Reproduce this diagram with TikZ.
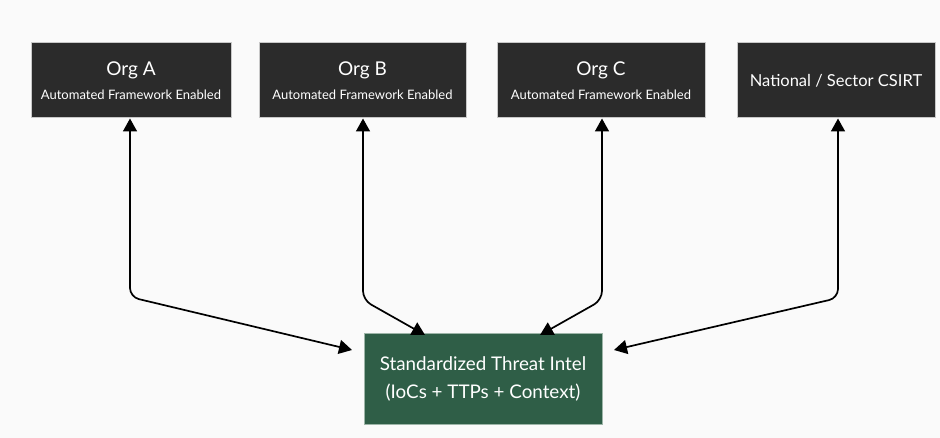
\documentclass[tikz,border=0pt]{standalone}
\usepackage{fontspec}
\setmainfont{Lato}
\usetikzlibrary{arrows.meta}
\definecolor{boxdark}{HTML}{2B2B2B}
\definecolor{boxedge}{HTML}{C8C8C8}
\definecolor{hubgreen}{HTML}{2F5E47}
\definecolor{hubedge}{HTML}{9DB5A8}
\definecolor{bgpaper}{HTML}{FAFAFA}
\newcommand{\orgtitle}[1]{{\fontsize{19}{22}\selectfont #1}}
\newcommand{\orgsub}[1]{{\fontsize{13}{16}\selectfont #1}}
\begin{document}
\begin{tikzpicture}[x=1pt,y=-1pt,
  orgbox/.style={draw=boxedge,line width=1pt,fill=boxdark,text=white,
    minimum height=75pt,inner sep=0pt,align=center},
  hubbox/.style={draw=hubedge,line width=1pt,fill=hubgreen,text=white,
    minimum width=238pt,minimum height=90pt,inner sep=0pt,align=center,
    font=\fontsize{18.8}{22}\selectfont},
  link/.style={line width=1.7pt,rounded corners=9pt,{Triangle[length=13pt,width=14pt]}-{Triangle[length=13pt,width=14pt]}}]
\fill[bgpaper] (0,0) rectangle (940,438);
\useasboundingbox (0,0) rectangle (940,438);

\node[orgbox,minimum width=200pt] (a) at (131,80.5)
  {\orgtitle{Org A}\\[10pt]\orgsub{Automated Framework Enabled}};
\node[orgbox,minimum width=207pt] (b) at (362.5,80.5)
  {\orgtitle{Org B}\\[10pt]\orgsub{Automated Framework Enabled}};
\node[orgbox,minimum width=208pt] (c) at (601,80.5)
  {\orgtitle{Org C}\\[10pt]\orgsub{Automated Framework Enabled}};
\node[orgbox,minimum width=198pt] (d) at (836,80.5)
  {{\fontsize{16.5}{18}\selectfont National / Sector CSIRT}};

\node[hubbox] (hub) at (483,379)
  {Standardized Threat Intel\\[6pt](IoCs + TTPs + Context)};

\coordinate (hl) at (352,350);
\coordinate (hr) at (614,350);
\coordinate (ht1) at (425,335);
\coordinate (ht2) at (540,335);

\draw[link] (a.south -| 130,0) -- (130,297) -- (hl);
\draw[link] (b.south -| 363,0) -- (363,300) -- (ht1);
\draw[link] (c.south -| 602,0) -- (602,300) -- (ht2);
\draw[link] (d.south -| 838,0) -- (838,298) -- (hr);
\end{tikzpicture}
\end{document}
